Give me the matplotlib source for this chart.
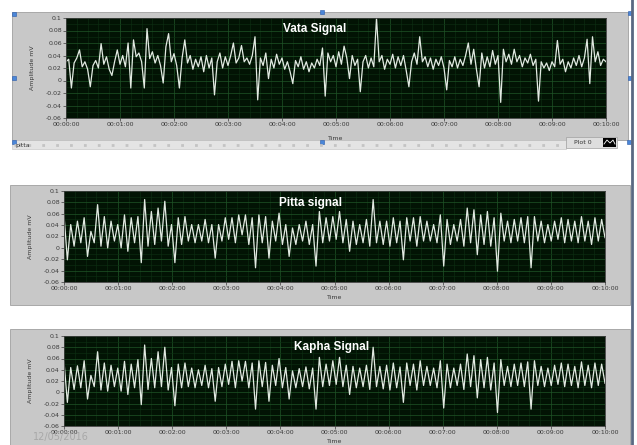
import numpy as np
import matplotlib.pyplot as plt
from matplotlib.patches import Rectangle
from matplotlib.ticker import FuncFormatter, MultipleLocator

# values in micro-units (x0.001 mV), evenly spaced over 0..600 s
vata = [30, 34, -12, 28, 36, 49, 22, 30, 18, -10, 24, 32, 20, 59, 26, 38, 18, 8, 30, 49,
        26, 40, 22, 60, -12, 65, 38, 44, 30, -12, 83, 35, 46, 28, 40, 24, -4, 54, 75, 30,
        43, 24, -12, 36, 65, 28, 40, 18, 34, 22, 38, 14, 40, 20, 36, -23, 30, 44, 20, 38,
        24, 40, 60, 28, 36, 56, 30, 36, 26, 40, 70, -31, 36, 24, 44, 3, 34, 20, 42, 26,
        36, 18, 30, 14, -5, 32, 22, 38, 18, 30, 14, 28, 20, 34, 24, 52, -25, 44, 30, 40,
        22, 46, 26, 55, 36, 3, 40, 24, 34, -18, 30, 40, 20, 36, 22, 100, 30, 40, 18, 34,
        26, 42, 20, 38, 24, 40, 16, -10, 30, 44, 26, 70, 30, 38, 22, 36, 18, 34, 24, 38,
        20, -15, 32, 22, 38, 20, 34, 24, 40, 60, 26, 50, 18, -10, 44, 20, 38, 22, 48, 26,
        40, -35, 50, 30, 42, 26, 50, 30, 40, 22, 36, 28, 42, 24, 34, -33, 30, 20, 28, 16,
        30, 22, 64, 26, 34, 14, 30, 20, 36, 24, 40, 22, 36, 66, -5, 70, 30, 46, 24, 34, 30]

pitta = [58, -21, 41, 3, 47, 9, 53, -15, 29, 9, 76, 3, 55, 0, 47, 12, 41, 0, 58, -6,
         53, 9, 55, -26, 85, 3, 64, 6, 70, 12, 82, 3, 41, -26, 53, 6, 55, 12, 41, 9,
         41, 12, 50, 9, 41, -18, 41, 12, 53, 15, 53, 9, 58, 23,
         58, 6, 53, -35, 58, 9, 55, -18, 47, 12, 61, 6, 41, -15, 35, 6, 41, 12, 47, 6,
         41, -32, 64, 9, 53, 12, 55, 15, 64, 9, 50, -6, 47, 6, 41, 9, 50, 3, 85, 9,
         47, 6, 47, 3, 53, 9, 47, -21, 53, 12, 53, 3, 55, 12,
         47, 12, 41, 9, 58, -32, 50, 6, 41, 12, 50, 3, 70, 9, 67, -12, 58, 6, 64, 3,
         53, -41, 61, 12, 47, 9, 50, 12, 53, 9, 55, -35, 55, 12, 47, 9, 41, 12, 47, 15,
         53, 9, 50, 12, 47, 9, 55, 12, 47, 6, 53, 12, 50, 18]

kapha = [55, -18, 44, 5, 47, 8, 56, -12, 30, 10, 72, 4, 52, 2, 48, 10, 43, 2, 55, -4,
         50, 8, 58, -22, 84, 5, 60, 8, 72, 10, 80, 4, 44, -24, 50, 8, 52, 10, 43, 8,
         40, 12, 48, 8, 42, -16, 44, 10, 50, 14, 55, 8, 56, 20,
         55, 8, 52, -30, 56, 10, 53, -16, 48, 12, 60, 8, 44, -12, 38, 8, 42, 10, 45, 6,
         43, -30, 62, 10, 50, 12, 56, 14, 62, 10, 48, -4, 46, 8, 43, 10, 48, 5, 80, 10,
         46, 6, 48, 4, 52, 8, 45, -18, 52, 12, 50, 4, 56, 12,
         46, 12, 43, 8, 56, -28, 50, 8, 43, 12, 50, 5, 68, 10, 65, -10, 58, 8, 62, 4,
         52, -36, 58, 12, 46, 10, 50, 12, 52, 10, 54, -30, 56, 12, 46, 10, 43, 12, 48, 14,
         52, 10, 50, 12, 46, 8, 54, 12, 48, 8, 52, 12, 50, 16]

titles = ['Vata Signal', 'Pitta signal', 'Kapha Signal']
yticks = [-0.06, -0.04, -0.02, 0, 0.02, 0.04, 0.06, 0.08, 0.1]

W, H = 637, 445
fig = plt.figure(figsize=(6.37, 4.45), dpi=100)
bg = fig.add_axes([0, 0, 1, 1])
bg.set_xlim(0, W)
bg.set_ylim(H, 0)
bg.axis('off')
bg.set_zorder(-1)

# grey graph frames
bg.add_patch(Rectangle((12, 12), 616, 128, fc='#c8c8c8', ec='#a0a0a0', lw=0.6))
bg.add_patch(Rectangle((12, 140), 554, 9, fc='#e4e4e4', ec='#c0c0c0', lw=0.4))
bg.plot([14, 564], [145, 145], color='#c4c4c4', lw=2, ls=(0, (1, 4)))
bg.add_patch(Rectangle((10, 185), 620, 120, fc='#c8c8c8', ec='#a0a0a0', lw=0.6))
bg.add_patch(Rectangle((10, 329), 620, 130, fc='#c8c8c8', ec='#a0a0a0', lw=0.6))
bg.plot([632, 632], [0, H], color='#5a6882', lw=2)

# selection handles on first graph
for hx, hy in [(14, 14), (14, 78), (14, 142), (322, 12), (322, 142), (630, 13), (630, 78), (629, 142)]:
    bg.add_patch(Rectangle((hx - 2, hy - 2), 4, 4, fc='#4a86d8', ec='#2a5aa8', lw=0.4))

bg.text(15, 146, 'pitta', fontsize=4.5, color='#333333', va='center')
bg.add_patch(Rectangle((566, 137), 51, 11, fc='#dedede', ec='#a0a0a0', lw=0.5))
bg.text(583, 142.5, 'Plot 0', fontsize=4.5, color='#333333', va='center', ha='center')
bg.add_patch(Rectangle((603, 138), 13, 9, fc='black'))
bg.plot([604, 607, 610, 613, 615], [144, 140, 143, 140, 144], color='white', lw=0.6)

fmt_t = FuncFormatter(lambda s, p: '00:%02d:%02d' % (int(round(s)) // 60, int(round(s)) % 60))
fmt_y = FuncFormatter(lambda v, p: '%g' % round(v, 2))

# (left, top, right, bottom) px, title centre x, title y frac, time label y frac
layout = [((66, 18, 606, 118), 0.461, 0.89, -0.2),
          ((64, 191, 605, 282), 0.455, 0.87, -0.165),
          ((64, 336, 605, 426), 0.495, 0.88, -0.17)]

for sig, title, (box, tx, ty, ly) in zip([vata, pitta, kapha], titles, layout):
    l, t, r, b = box
    ax = fig.add_axes([l / W, 1 - b / H, (r - l) / W, (b - t) / H], facecolor='#021304')
    x = np.linspace(0, 600, len(sig))
    ax.plot(x, np.array(sig) / 1000, color='#e2eae2', lw=0.9)
    ax.set_xlim(0, 600)
    ax.set_ylim(-0.06, 0.1)
    ax.set_xticks(np.arange(0, 601, 60))
    ax.set_yticks(yticks)
    ax.xaxis.set_minor_locator(MultipleLocator(12))
    ax.yaxis.set_minor_locator(MultipleLocator(0.01))
    ax.xaxis.set_major_formatter(fmt_t)
    ax.yaxis.set_major_formatter(fmt_y)
    ax.set_axisbelow(True)
    ax.grid(which='major', color='#1f5527', lw=0.5)
    ax.grid(which='minor', color='#0d3014', lw=0.4)
    ax.tick_params(which='minor', length=0)
    ax.tick_params(which='major', length=2, width=0.5, labelsize=4.5, colors='#3a3a3a', pad=1)
    for sp in ax.spines.values():
        sp.set_color('#3c3c3c')
        sp.set_linewidth(0.6)
    ax.set_ylabel('Amplitude mV', fontsize=4.5, color='#3a3a3a')
    ax.yaxis.set_label_coords(-0.057, 0.5)
    ax.text(0.5, ly, 'Time', transform=ax.transAxes, ha='center', va='center',
            fontsize=4.5, color='#3a3a3a')
    ax.text(tx, ty, title, transform=ax.transAxes, ha='center', va='center',
            color='white', fontweight='bold', fontsize=8.5, family='Liberation Sans')

# faint date stamp over the last graph, as in the screenshot
fig.text(33 / W, 1 - 437 / H, '12/05/2016', fontsize=7, color='#a8a8a8', va='center', zorder=10)

fig.savefig('out.png', dpi=100)
